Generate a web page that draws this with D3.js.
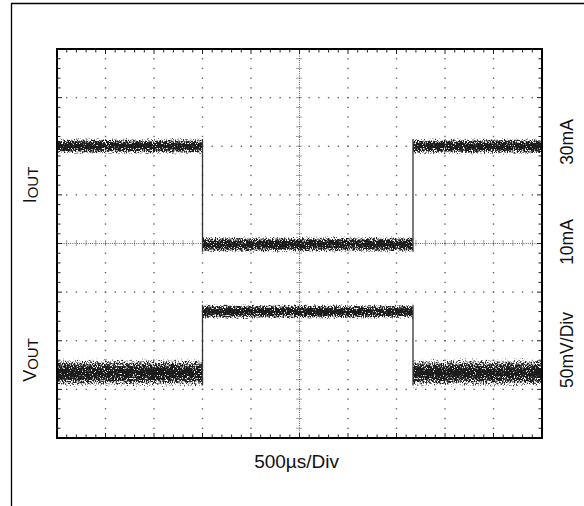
<!DOCTYPE html>
<html>
<head>
<meta charset="utf-8">
<script src="https://cdn.jsdelivr.net/npm/d3@7"></script>
<style>
    body { margin: 0; background: white; }
    text { font-family: "Liberation Sans", Arial, sans-serif; fill: #111; }
</style>
</head>
<body>
<svg id="scope"></svg>
<script>
// time base: 500us per division, 10 divisions
var timeTicks = [0, 500, 1000, 1500, 2000, 2500, 3000, 3500, 4000, 4500, 5000];
// vertical divisions, centre line = 0
var divTicks = [-4, -3, -2, -1, 0, 1, 2, 3, 4];

// load step: segment boundaries (us)
var stepTimes = [0, 1500, 3670, 5000];

// I_OUT per segment (mA) and noise spread (+/- mA)
var iOutLevels = [30, 9.8, 30];
var iOutNoise = [1.5, 1.5, 1.5];

// V_OUT per segment (mV from screen centre) and noise spread (+/- mV)
var vOutLevels = [-133, -70, -133];
var vOutNoise = [13, 7, 13];

var rightLabels = ["30mA", "10mA", "50mV/Div"];

var dimensions = {
    width: 584,
    height: 506,
    margin: { top: 49, bottom: 68, left: 57, right: 42 }
}

var svg = d3.select("#scope")
    .attr("width", dimensions.width)
    .attr("height", dimensions.height);

var x0 = dimensions.margin.left,
    x1 = dimensions.width - dimensions.margin.right,
    y0 = dimensions.margin.top,
    y1 = dimensions.height - dimensions.margin.bottom;

var xScale = d3.scaleLinear().domain([0, 5000]).range([x0, x1]);
var yDiv = d3.scaleLinear().domain([-4, 4]).range([y1, y0]);
// 10mA/div, 10mA on the centre line
var iScale = d3.scaleLinear().domain([-30, 50]).range([y1, y0]);
// 50mV/div
var vScale = d3.scaleLinear().domain([-200, 200]).range([y1, y0]);

// outer figure frame (left + top only)
svg.append("path")
    .attr("d", `M11.5,${dimensions.height} V3.5 H${dimensions.width}`)
    .attr("fill", "none")
    .attr("stroke", "#000")
    .attr("stroke-width", 1.3);

var defs = svg.append("defs");

var grad = defs.append("linearGradient")
    .attr("id", "bandGrad")
    .attr("x1", 0).attr("y1", 0).attr("x2", 0).attr("y2", 1);
[[0, 0], [0.5, 1], [1, 0]].forEach(s => {
    grad.append("stop").attr("offset", s[0]).attr("stop-color", "#000").attr("stop-opacity", s[1]);
});

var filt = defs.append("filter")
    .attr("id", "speckle")
    .attr("filterUnits", "userSpaceOnUse")
    .attr("x", x0).attr("y", y0).attr("width", x1 - x0).attr("height", y1 - y0)
    .attr("color-interpolation-filters", "sRGB");
filt.append("feTurbulence")
    .attr("type", "fractalNoise").attr("baseFrequency", "0.9 0.6")
    .attr("numOctaves", 2).attr("seed", 7).attr("result", "n");
filt.append("feColorMatrix")
    .attr("in", "n").attr("type", "matrix")
    .attr("values", "0 0 0 0 0  0 0 0 0 0  0 0 0 0 0  1 0 0 0 0")
    .attr("result", "na");
filt.append("feComposite")
    .attr("in", "na").attr("in2", "SourceGraphic")
    .attr("operator", "arithmetic").attr("k1", 1).attr("k2", 0).attr("k3", 0).attr("k4", 0)
    .attr("result", "m");
filt.append("feComponentTransfer")
    .attr("in", "m").attr("result", "mask")
    .append("feFuncA").attr("type", "linear").attr("slope", 9).attr("intercept", -2.1);
filt.append("feFlood").attr("flood-color", "#1c1c1c").attr("result", "ink");
filt.append("feComposite").attr("in", "ink").attr("in2", "mask").attr("operator", "in");

// ---- grid ----
var grid = svg.append("g").attr("class", "grid");
var minorT = d3.range(0, 5001, 100);
var minorD = d3.range(-4, 4.001, 0.2).map(d => Math.round(d * 10) / 10);

var dots = [];
timeTicks.slice(1, -1).filter(t => t != 2500).forEach(t => {
    minorD.slice(1, -1).forEach(d => dots.push([xScale(t), yDiv(d)]));
});
divTicks.slice(1, -1).filter(d => d != 0).forEach(d => {
    minorT.slice(1, -1).forEach(t => dots.push([xScale(t), yDiv(d)]));
});
grid.selectAll(".dot")
    .data(dots)
    .enter()
    .append("rect")
    .attr("class", "dot")
    .attr("x", d => d[0] - 0.7)
    .attr("y", d => d[1] - 0.7)
    .attr("width", 1.4)
    .attr("height", 1.4)
    .attr("fill", "#666");

// centre cross
grid.append("line")
    .attr("x1", xScale(2500)).attr("x2", xScale(2500))
    .attr("y1", y0).attr("y2", y1)
    .attr("stroke", "#666").attr("stroke-dasharray", "1,1.2");
grid.append("line")
    .attr("x1", x0).attr("x2", x1)
    .attr("y1", yDiv(0)).attr("y2", yDiv(0))
    .attr("stroke", "#666").attr("stroke-dasharray", "1,1.2");
grid.selectAll(".vcross")
    .data(minorD.slice(1, -1))
    .enter()
    .append("line")
    .attr("x1", xScale(2500) - 3).attr("x2", xScale(2500) + 3)
    .attr("y1", d => yDiv(d)).attr("y2", d => yDiv(d))
    .attr("stroke", "#444").attr("stroke-dasharray", "1,1");
grid.selectAll(".hcross")
    .data(minorT.slice(1, -1))
    .enter()
    .append("line")
    .attr("x1", d => xScale(d)).attr("x2", d => xScale(d))
    .attr("y1", yDiv(0) - 3).attr("y2", yDiv(0) + 3)
    .attr("stroke", "#444").attr("stroke-dasharray", "1,1");

// border ticks pointing inward
var isMajorT = t => t % 500 == 0;
var isMajorD = d => Math.abs(d - Math.round(d)) < 0.01;
var ticks = svg.append("g").attr("stroke", "#222").attr("stroke-width", 1);
minorT.slice(1, -1).forEach(t => {
    var len = isMajorT(t) ? 5 : 3.5;
    ticks.append("line").attr("x1", xScale(t)).attr("x2", xScale(t)).attr("y1", y0).attr("y2", y0 + len);
    ticks.append("line").attr("x1", xScale(t)).attr("x2", xScale(t)).attr("y1", y1).attr("y2", y1 - len);
});
minorD.slice(1, -1).forEach(d => {
    var len = isMajorD(d) ? 5 : 3.5;
    ticks.append("line").attr("x1", x0).attr("x2", x0 + len).attr("y1", yDiv(d)).attr("y2", yDiv(d));
    ticks.append("line").attr("x1", x1).attr("x2", x1 - len).attr("y1", yDiv(d)).attr("y2", yDiv(d));
});

// ---- traces ----
function segments(levels, noise) {
    return levels.map((lv, i) => ({
        t0: stepTimes[i], t1: stepTimes[i + 1], level: lv, noise: noise[i]
    }));
}
var spread = 1.75; // band drawn wider, speckle threshold eats the faint edge

var area = scale => d3.area()
    .x(d => xScale(d.t))
    .y0(d => scale(d.level - d.noise * spread))
    .y1(d => scale(d.level + d.noise * spread));

function drawTrace(levels, noise, scale, cls) {
    var segs = segments(levels, noise);
    var g = svg.append("g").attr("class", cls);
    g.append("g")
        .attr("filter", "url(#speckle)")
        .selectAll("path")
        .data(segs)
        .enter()
        .append("path")
        .attr("d", s => area(scale)([{ t: s.t0, level: s.level, noise: s.noise }, { t: s.t1, level: s.level, noise: s.noise }]))
        .attr("fill", "url(#bandGrad)");
    // step edges
    g.selectAll(".edge")
        .data(segs.slice(1))
        .enter()
        .append("line")
        .attr("class", "edge")
        .attr("x1", s => xScale(s.t0)).attr("x2", s => xScale(s.t0))
        .attr("y1", (s, i) => {
            var p = segs[i];
            return p.level > s.level ? scale(p.level + p.noise) : scale(p.level - p.noise);
        })
        .attr("y2", (s, i) => {
            var p = segs[i];
            return p.level > s.level ? scale(s.level - s.noise) : scale(s.level + s.noise);
        })
        .attr("stroke", "#333")
        .attr("stroke-width", 1.3);
}
drawTrace(iOutLevels, iOutNoise, iScale, "iout");
drawTrace(vOutLevels, vOutNoise, vScale, "vout");

// plot frame
svg.append("rect")
    .attr("x", x0).attr("y", y0)
    .attr("width", x1 - x0).attr("height", y1 - y0)
    .attr("fill", "none")
    .attr("stroke", "#000")
    .attr("stroke-width", 2);

// ---- labels ----
svg.append("text")
    .attr("text-anchor", "middle")
    .attr("x", xScale(2470))
    .attr("y", 468)
    .style("font-size", "19px")
    .text("500µs/Div");

var rightY = [142, 242, 350];
svg.selectAll(".rlabel")
    .data(rightLabels)
    .enter()
    .append("text")
    .attr("class", "rlabel")
    .attr("text-anchor", "middle")
    .attr("transform", (d, i) => `translate(573,${rightY[i]}) rotate(-90)`)
    .style("font-size", "17.5px")
    .text(d => d);

function subLabel(main, sub, cy) {
    var t = svg.append("text")
        .attr("text-anchor", "middle")
        .attr("transform", `translate(36,${cy}) rotate(-90)`)
        .style("font-size", "18px");
    t.append("tspan").text(main);
    t.append("tspan").attr("dy", 1.5).style("font-size", "15px").text(sub);
}
subLabel("I", "OUT", 185);
subLabel("V", "OUT", 360);
</script>
</body>
</html>
